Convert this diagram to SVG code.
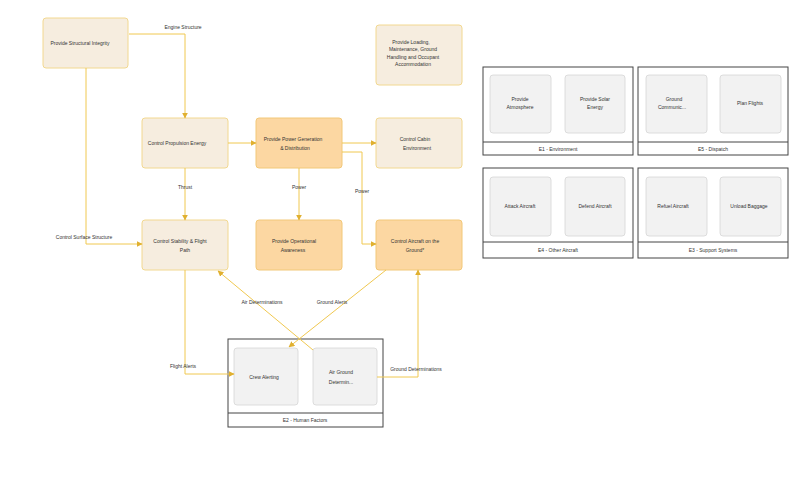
<svg xmlns="http://www.w3.org/2000/svg" width="800" height="500" viewBox="0 0 800 500">
<defs>
<marker id="ah" viewBox="0 0 10 10" refX="9" refY="5" markerWidth="6" markerHeight="6" orient="auto" markerUnits="userSpaceOnUse">
<path d="M0,0 L10,5 L0,10 z" fill="#e0b030"/>
</marker>
<style>
text{font-family:"Liberation Sans",Arial,sans-serif;font-size:5px;fill:#333;text-anchor:middle}
.n{fill:#f6eddf;stroke:#f2d890;stroke-width:1}
.o{fill:#fcd7a2;stroke:#f2c878;stroke-width:1}
.c{fill:#fff;stroke:#444;stroke-width:1}
.i{fill:#f2f2f2;stroke:#d6d6d6;stroke-width:0.8}
.e{fill:none;stroke:#f0c850;stroke-width:1}
</style>
</defs>
<rect width="800" height="500" fill="#fff"/>
<g id="n-structural"><rect class="n" x="43" y="18" width="85" height="50" rx="3"/><text x="80" y="45">Provide Structural Integrity</text></g>
<g id="n-loading"><rect class="n" x="376" y="25" width="86" height="60" rx="3"/>
<text x="411" y="44">Provide Loading,</text><text x="413" y="51">Maintenance, Ground</text><text x="413" y="58.5">Handling and Occupant</text><text x="413" y="66">Accommodation</text></g>
<g id="n-propulsion"><rect class="n" x="142" y="118" width="86" height="50" rx="3"/><text x="177" y="145">Control Propulsion Energy</text></g>
<g id="n-power"><rect class="o" x="256" y="118" width="86" height="50" rx="3"/><text x="293" y="141">Provide Power Generation</text><text x="295" y="150">&amp; Distribution</text></g>
<g id="n-cabin"><rect class="n" x="376" y="118" width="86" height="50" rx="3"/><text x="415" y="141">Control Cabin</text><text x="417" y="150">Environment</text></g>
<g id="n-stability"><rect class="n" x="142" y="220" width="86" height="50" rx="3"/><text x="180" y="243">Control Stability &amp; Flight</text><text x="185" y="252">Path</text></g>
<g id="n-awareness"><rect class="o" x="256" y="220" width="86" height="50" rx="3"/><text x="294" y="243">Provide Operational</text><text x="293" y="252">Awareness</text></g>
<g id="n-ground"><rect class="o" x="376" y="220" width="86" height="50" rx="3"/><text x="415" y="243">Control Aircraft on the</text><text x="415" y="252">Ground*</text></g>
<g id="e2">
<rect class="c" x="228" y="339" width="155" height="88"/><line x1="228" y1="413" x2="383" y2="413" stroke="#444" stroke-width="1"/>
<text x="305" y="422">E2 - Human Factors</text>
<g id="crew"><rect class="i" x="234" y="348" width="64" height="57" rx="3"/><text x="264" y="379">Crew Alerting</text></g>
<g id="airground"><rect class="i" x="313" y="348" width="64" height="57" rx="3"/><text x="341" y="374">Air Ground</text><text x="341" y="384">Determin...</text></g>
</g>
<g id="e1">
<rect class="c" x="483" y="67" width="150" height="88"/><line x1="483" y1="142" x2="633" y2="142" stroke="#444" stroke-width="1"/>
<text x="558" y="151">E1 - Environment</text>
<g id="atmos"><rect class="i" x="490" y="75" width="61" height="58" rx="3"/><text x="520" y="101">Provide</text><text x="520" y="109">Atmosphere</text></g>
<g id="solar"><rect class="i" x="565" y="75" width="60" height="58" rx="3"/><text x="595" y="101">Provide Solar</text><text x="595" y="109">Energy</text></g>
</g>
<g id="e5">
<rect class="c" x="638" y="67" width="150" height="88"/><line x1="638" y1="142" x2="788" y2="142" stroke="#444" stroke-width="1"/>
<text x="713" y="151">E5 - Dispatch</text>
<g id="gcomm"><rect class="i" x="646" y="75" width="61" height="58" rx="3"/><text x="674" y="101">Ground</text><text x="672" y="109">Communic...</text></g>
<g id="plan"><rect class="i" x="720" y="75" width="61" height="58" rx="3"/><text x="750" y="105">Plan Flights</text></g>
</g>
<g id="e4">
<rect class="c" x="483" y="168" width="150" height="90"/><line x1="483" y1="242" x2="633" y2="242" stroke="#444" stroke-width="1"/>
<text x="558" y="252">E4 - Other Aircraft</text>
<g id="attack"><rect class="i" x="490" y="177" width="61" height="59" rx="3"/><text x="520" y="208">Attack Aircraft</text></g>
<g id="defend"><rect class="i" x="565" y="177" width="60" height="59" rx="3"/><text x="595" y="208">Defend Aircraft</text></g>
</g>
<g id="e3">
<rect class="c" x="638" y="168" width="150" height="90"/><line x1="638" y1="242" x2="788" y2="242" stroke="#444" stroke-width="1"/>
<text x="713" y="252">E3 - Support Systems</text>
<g id="refuel"><rect class="i" x="646" y="177" width="61" height="59" rx="3"/><text x="673" y="208">Refuel Aircraft</text></g>
<g id="unload"><rect class="i" x="720" y="177" width="61" height="59" rx="3"/><text x="749" y="208">Unload Baggage</text></g>
</g>
<g id="connectors">
<polyline class="e" points="129,34 185,34 185,118" marker-end="url(#ah)"/>
<text x="183" y="29">Engine Structure</text>
<polyline class="e" points="86,68 86,244 142,244" marker-end="url(#ah)"/>
<text x="84" y="239">Control Surface Structure</text>
<line class="e" x1="228" y1="143" x2="256" y2="143" marker-end="url(#ah)"/>
<line class="e" x1="342" y1="143" x2="376" y2="143" marker-end="url(#ah)"/>
<line class="e" x1="185" y1="168" x2="185" y2="220" marker-end="url(#ah)"/>
<text x="185" y="189">Thrust</text>
<line class="e" x1="299" y1="168" x2="299" y2="220" marker-end="url(#ah)"/>
<text x="299" y="189">Power</text>
<polyline class="e" points="342,152 362,152 362,244 376,244" marker-end="url(#ah)"/>
<text x="362" y="193">Power</text>
<polyline class="e" points="185,270 185,374 234,374" marker-end="url(#ah)"/>
<text x="183" y="368">Flight Alerts</text>
<line class="e" x1="313" y1="350" x2="218" y2="271" marker-end="url(#ah)"/>
<text x="262" y="304">Air Determinations</text>
<line class="e" x1="386" y1="270" x2="289" y2="347" marker-end="url(#ah)"/>
<text x="332" y="304">Ground Alerts</text>
<polyline class="e" points="377,377 418,377 418,270" marker-end="url(#ah)"/>
<text x="416" y="371">Ground Determinations</text>
</g>
</svg>
